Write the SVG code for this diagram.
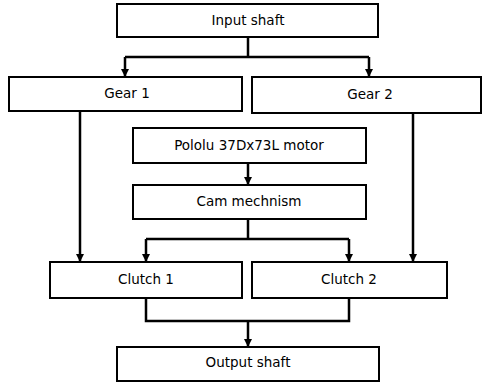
<svg xmlns="http://www.w3.org/2000/svg" width="482" height="385" viewBox="0 0 482 385">
<style>
.box{fill:#fff;stroke:#000;stroke-width:2}
.lbl{font-family:"DejaVu Sans",Verdana,sans-serif;font-size:13.5px;fill:#000;text-anchor:middle;dominant-baseline:central}
.con{fill:none;stroke:#000;stroke-width:2.5}
</style>
<defs>
<marker id="arr" viewBox="0 0 10 10" refX="10" refY="5" markerWidth="3.2" markerHeight="3.2" orient="auto" markerUnits="strokeWidth">
<path d="M0,0 L10,5 L0,10 Z" fill="#000"/>
</marker>
</defs>
<rect width="482" height="385" fill="#fff"/>
<g id="connectors">
<path class="con" d="M248,37 V57"/>
<path class="con" d="M125,57 H369"/>
<path class="con" d="M125,57 V77" marker-end="url(#arr)"/>
<path class="con" d="M369,57 V77" marker-end="url(#arr)"/>
<path class="con" d="M80,111 V262" marker-end="url(#arr)"/>
<path class="con" d="M413,113 V262" marker-end="url(#arr)"/>
<path class="con" d="M248,163 V185" marker-end="url(#arr)"/>
<path class="con" d="M248,219 V239"/>
<path class="con" d="M146,239 H349"/>
<path class="con" d="M146,239 V262" marker-end="url(#arr)"/>
<path class="con" d="M349,239 V262" marker-end="url(#arr)"/>
<path class="con" d="M146,298 V321 H349 V298"/>
<path class="con" d="M248,321 V347" marker-end="url(#arr)"/>
</g>
<g id="input-shaft"><rect class="box" x="117" y="4" width="261" height="33"/><text class="lbl" x="248" y="20">Input shaft</text></g>
<g id="gear-1"><rect class="box" x="9" y="77" width="233" height="34"/><text class="lbl" x="127" y="93">Gear 1</text></g>
<g id="gear-2"><rect class="box" x="252" y="77" width="229" height="36"/><text class="lbl" x="370" y="94">Gear 2</text></g>
<g id="motor"><rect class="box" x="133" y="128" width="233" height="35"/><text class="lbl" x="249" y="145">Pololu 37Dx73L motor</text></g>
<g id="cam"><rect class="box" x="133" y="185" width="233" height="34"/><text class="lbl" x="249" y="201">Cam mechnism</text></g>
<g id="clutch-1"><rect class="box" x="50" y="262" width="192" height="36"/><text class="lbl" x="146" y="279">Clutch 1</text></g>
<g id="clutch-2"><rect class="box" x="252" y="262" width="195" height="36"/><text class="lbl" x="349" y="279">Clutch 2</text></g>
<g id="output-shaft"><rect class="box" x="117" y="347" width="262" height="34"/><text class="lbl" x="248" y="362">Output shaft</text></g>
</svg>
